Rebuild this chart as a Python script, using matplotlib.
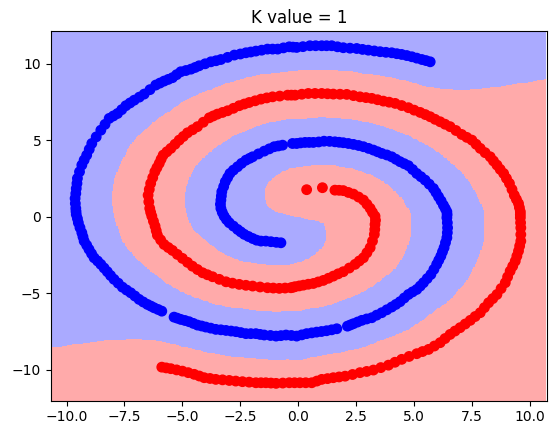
import numpy as np
import matplotlib
matplotlib.use("Agg")
import matplotlib.pyplot as plt
from matplotlib.colors import ListedColormap

k_value = 1

blue_x = [-0.75, -1.18, -1.61, -1.97, -2.33, -2.62, -2.98, -3.2, -3.34, -3.34, -3.30, -3.15, -2.95, -2.62, -2.26, -1.97,
          -1.47, -1.04, -0.68, -0.25, -0.07, 0.29, 0.65, 1.11, 1.58, 1.94, 2.38, 2.81, 3.24, 3.60, 4.03, 4.39, 4.75,
          5.11, 5.47, 5.83, 6.05, 6.26, 6.41, 6.41, 6.44, 6.41, 6.29, 6.15, 5.97, 5.72, 5.40, 5.11, 4.75, 4.39, 4.03,
          3.60, 3.17, 2.74, 2.38, 2.12, 1.66, 1.22, 0.79, 0.36, -0.07, -0.53, -0.96, -1.47, -1.83, -2.26, -2.69, -3.12,
          -3.56, -3.99, -4.35, -4.71, -5.07, -5.36, -5.89, -6.22, -6.51, -6.87, -7.23, -7.59, -7.95, -8.24, -8.52,
          -8.81, -9.03, -9.24, -9.34, -9.49, -9.58, -9.60, -9.63, -9.58, -9.53, -9.34, -9.13, -8.91, -8.52, -8.16,
          -7.80, -7.44, -7.08, -6.65, -6.15, -5.79, -5.43, -5.07, -4.63, -4.28, -3.77, -3.34, -2.76, -2.26, -1.83,
          -1.33, -0.89, -0.39, -0.07, 0.5, 1.01, 1.44, 1.94, 2.52, 3.02, 3.53, 4.03, 4.46, 4.90, 5.33, 5.69,
          -0.95, -1.4, -1.8, -2.15, -2.48, -2.8, -3.1, -3.28, -3.36, -3.32, -3.22, -3.05, -2.8, -2.45, -2.1, -1.72,
          -1.25, -0.86, 0.1, 0.47, 0.88, 1.35, 1.76, 2.16, 2.6, 3.03, 3.42, 3.82, 4.21, 4.57, 4.93, 5.29, 5.65, 5.94,
          6.16, 6.34, 6.42, 6.43, 6.43, 6.35, 6.22, 6.06, 5.85, 5.56, 5.26, 4.93, 4.57, 4.21, 3.82, 3.38, 2.95, 2.56,
          2.25, 1.44, 1.0, 0.58, 0.15, -0.3, -0.75, -1.2, -1.65, -2.05, -2.48, -2.9, -3.34, -3.78, -4.17, -4.53,
          -4.89, -5.22, -6.05, -6.36, -6.69, -7.05, -7.41, -7.77, -8.1, -8.38, -8.66, -8.92, -9.13, -9.29, -9.42,
          -9.53, -9.59, -9.62, -9.6, -9.55, -9.44, -9.24, -9.02, -8.72, -8.34, -7.98, -7.62, -7.26, -6.86, -6.4,
          -5.97, -5.61, -5.25, -4.85, -4.45, -4.02, -3.55, -3.05, -2.5, -2.05, -1.58, -1.11, -0.64, -0.23, 0.2, 0.75,
          1.22, 1.69, 2.23, 2.77, 3.28, 3.78, 4.25, 4.68, 5.11, 5.51]
blue_y = [-1.69, -1.62, -1.58, -1.41, -1.14, -0.82, -0.38, 0.05, 0.56, 1.10, 1.65, 2.30, 2.84, 3.28, 3.71, 3.93,
          4.30, 4.59, 4.69, 4.80, 4.80, 4.87, 4.87, 4.95, 4.91, 4.85, 4.74, 4.59, 4.37, 4.15, 3.93, 3.61, 3.35,
          2.84, 2.41, 1.86, 1.32, 0.77, 0.34, -0.05, -0.71, -1.36, -2.01, -2.56, -3.10, -3.76, -4.30, -4.74, -5.07,
          -5.54, -5.89, -6.26, -6.59, -6.76, -6.98, -7.14, -7.31, -7.44, -7.53, -7.63, -7.79, -7.72, -7.79, -7.72,
          -7.63, -7.63, -7.50, -7.42, -7.35, -7.20, -7.07, -6.85, -6.70, -6.55, -6.16, -5.94, -5.72, -5.39, -4.96,
          -4.59, -4.08, -3.58, -3.10, -2.67, -2.12, -1.58, -1.03, -0.38, 0.16, 0.56, 1.21, 1.86, 2.52, 3.39, 4.04,
          4.80, 5.67, 6.44, 6.76, 7.27, 7.63, 8.03, 8.62, 8.88, 9.10, 9.49, 9.66, 9.88, 10.14, 10.29, 10.58, 10.73,
          10.84, 10.97, 10.97, 11.12, 11.08, 11.19, 11.19, 11.19, 11.06, 11.01, 10.90, 10.80, 10.73, 10.62, 10.47,
          10.29, 10.14,
          -1.66, -1.58, -1.52, -1.28, -0.98, -0.6, -0.17, 0.3, 0.83, 1.37, 1.98, 2.57, 3.06, 3.5, 3.83, 4.12,
          4.45, 4.64, 4.84, 4.87, 4.9, 4.94, 4.88, 4.8, 4.67, 4.48, 4.26, 4.05, 3.77, 3.48, 3.1, 2.63, 2.14, 1.6,
          1.05, 0.55, 0.15, -0.38, -1.03, -1.68, -2.28, -2.83, -3.43, -4.03, -4.52, -4.9, -5.3, -5.72, -6.07, -6.42,
          -6.67, -6.87, -7.06, -7.38, -7.49, -7.58, -7.71, -7.75, -7.76, -7.75, -7.68, -7.63, -7.56, -7.46, -7.38,
          -7.27, -7.13, -6.96, -6.77, -6.62, -6.05, -5.83, -5.56, -5.17, -4.78, -4.33, -3.83, -3.34, -2.88, -2.4,
          -1.85, -1.3, -0.7, -0.11, 0.36, 0.88, 1.53, 2.19, 2.95, 3.72, 4.42, 5.23, 6.05, 6.6, 7.01, 7.45, 7.83, 8.32,
          8.75, 8.99, 9.3, 9.57, 9.77, 10.01, 10.21, 10.43, 10.65, 10.78, 10.9, 10.97, 11.05, 11.1, 11.13, 11.19,
          11.19, 11.12, 11.03, 10.95, 10.85, 10.76, 10.67, 10.55, 10.38, 10.22]

red_x = [0.36, 1.04, 1.58, 1.94, 2.38, 2.81, 3.10, 3.31, 3.31, 3.28, 3.10, 2.81, 2.45, 1.94, 1.51, 1.08, 0.65, 0.22,
         -0.14, -0.32, -0.82, -1.33, -1.97, -2.55, -3.12, -3.70, -4.13, -4.57, -5.0, -5.43, -5.79, -6.08, -6.18,
         -6.32, -6.41, -6.48, -6.37, -6.19, -6.0, -5.83, -5.50, -5.14, -4.78, -4.35, -3.84, -3.49, -3.05, -2.55,
         -2.12, -1.61, -1.11, -0.46, -0.14, 0.43, 1.01, 1.51, 2.09, 2.66, 3.17, 3.67, 4.18, 4.75, 5.26, 5.69, 6.12,
         6.55, 7.05, 7.49, 7.85, 8.28, 8.57, 8.86, 9.11, 9.32, 9.50, 9.58, 9.58, 9.60, 9.60, 9.50, 9.36, 9.14, 8.93,
         8.57, 8.21, 7.85, 7.42, 6.98, 6.55, 6.12, 5.62, 5.11, 4.46, 3.89, 3.24, 2.66, 2.02, 1.51, 1.01, 0.58, 0.07,
         -0.39, -0.96, -1.40, -1.83, -2.41, -2.98, -3.56, -4.06, -4.49, -5.0, -5.5, -5.89,
         1.76, 2.16, 2.6, 2.96, 3.2, 3.33, 3.3, 3.2, 2.96, 2.63, 2.2, 1.72, 1.3, 0.86, 0.43, 0.04, -0.23, -0.57,
         -1.08, -1.65, -2.26, -2.84, -3.41, -3.92, -4.35, -4.78, -5.22, -5.61, -5.94, -6.13, -6.25, -6.37, -6.45,
         -6.43, -6.28, -6.1, -5.92, -5.67, -5.32, -4.96, -4.56, -4.1, -3.67, -3.27, -2.8, -2.33, -1.86, -1.36, -0.8,
         -0.3, 0.15, 0.72, 1.26, 1.8, 2.38, 2.92, 3.42, 3.92, 4.46, 5.0, 5.48, 5.9, 6.33, 6.8, 7.27, 7.67, 8.06,
         8.42, 8.71, 8.98, 9.22, 9.41, 9.54, 9.58, 9.59, 9.6, 9.55, 9.43, 9.25, 9.03, 8.75, 8.39, 8.03, 7.63, 7.2,
         6.76, 6.33, 5.87, 5.36, 4.78, 4.17, 3.56, 2.95, 2.34, 1.76, 1.26, 0.8, 0.32, -0.16, -0.67, -1.18, -1.61,
         -2.12, -2.7, -3.27, -3.81, -4.27, -4.75, -5.25, -5.7]
red_y = [1.78, 1.91, 1.75, 1.72, 1.49, 1.10, 0.56, 0.05, -0.49, -1.14, -2.01, -2.67, -3.10, -3.58, -3.87, -4.15,
         -4.35, -4.46, -4.56, -4.63, -4.67, -4.63, -4.52, -4.41, -4.24, -3.91, -3.65, -3.22, -2.71, -2.19, -1.80,
         -1.19, -0.60, 0.05, 0.56, 1.42, 2.19, 2.95, 3.50, 4.04, 4.48, 5.02, 5.50, 5.90, 6.48, 6.72, 6.94, 7.27,
         7.48, 7.70, 7.85, 7.96, 7.96, 8.07, 8.07, 8.03, 8.01, 7.85, 7.75, 7.57, 7.42, 7.14, 6.83, 6.55, 6.22,
         5.90, 5.39, 5.02, 4.48, 3.93, 3.39, 2.84, 2.19, 1.42, 0.88, 0.34, -0.05, -0.71, -1.58, -2.23, -2.89,
         -3.54, -4.30, -5.07, -5.61, -6.26, -6.76, -7.24, -7.68, -8.22, -8.66, -8.94, -9.31, -9.69, -10.01,
         -10.18, -10.41, -10.51, -10.62, -10.84, -10.84, -10.84, -10.88, -10.84, -10.84, -10.77, -10.69, -10.62,
         -10.51, -10.29, -10.08, -9.92, -9.82,
         1.74, 1.6, 1.3, 0.83, 0.3, -0.22, -0.82, -1.58, -2.34, -2.88, -3.34, -3.72, -4.01, -4.25, -4.4, -4.51, -4.6,
         -4.65, -4.65, -4.58, -4.47, -4.33, -4.08, -3.78, -3.44, -2.97, -2.45, -2.0, -1.5, -0.9, -0.28, 0.3, 0.99,
         1.8, 2.57, 3.22, 3.77, 4.26, 4.75, 5.26, 5.7, 6.19, 6.6, 6.83, 7.1, 7.38, 7.59, 7.78, 7.9, 7.96, 8.02, 8.07,
         8.05, 8.02, 7.93, 7.8, 7.66, 7.5, 7.28, 6.98, 6.69, 6.38, 6.06, 5.65, 5.2, 4.75, 4.2, 3.66, 3.11, 2.52, 1.8,
         1.15, 0.61, 0.15, -0.38, -1.15, -1.9, -2.56, -3.22, -3.92, -4.68, -5.34, -5.93, -6.51, -7.0, -7.46, -7.95,
         -8.44, -8.8, -9.12, -9.5, -9.85, -10.1, -10.3, -10.46, -10.57, -10.73, -10.84, -10.84, -10.86, -10.86,
         -10.84, -10.8, -10.73, -10.65, -10.56, -10.4, -10.18, -10.0, -9.87]

x = np.array(blue_x + red_x)
y = np.array(blue_y + red_y)
labels = np.array([0] * len(blue_x) + [1] * len(red_x))

# nearest neighbour regions on a grid
xx, yy = np.meshgrid(np.arange(-10.67, 10.73, 0.05), np.arange(-12.0, 12.16, 0.05))
d = (xx[..., None] - x) ** 2 + (yy[..., None] - y) ** 2
zz = labels[np.argmin(d, axis=2)]

fig = plt.figure(figsize=(5.55, 4.34), dpi=100)
ax = fig.add_axes([51 / 555, 33.5 / 434, 496 / 555, 369.6 / 434])
ax.pcolormesh(xx, yy, zz, cmap=ListedColormap(["#AAAAFF", "#FFAAAA"]), shading="auto")
ax.scatter(x, y, c=labels, cmap=ListedColormap(["#0000FF", "#FF0000"]), s=46)
ax.set_xlim(-10.67, 10.73)
ax.set_ylim(-12.0, 12.16)
ax.set_title("K value = " + str(k_value))
fig.savefig("out.png", dpi=100)
